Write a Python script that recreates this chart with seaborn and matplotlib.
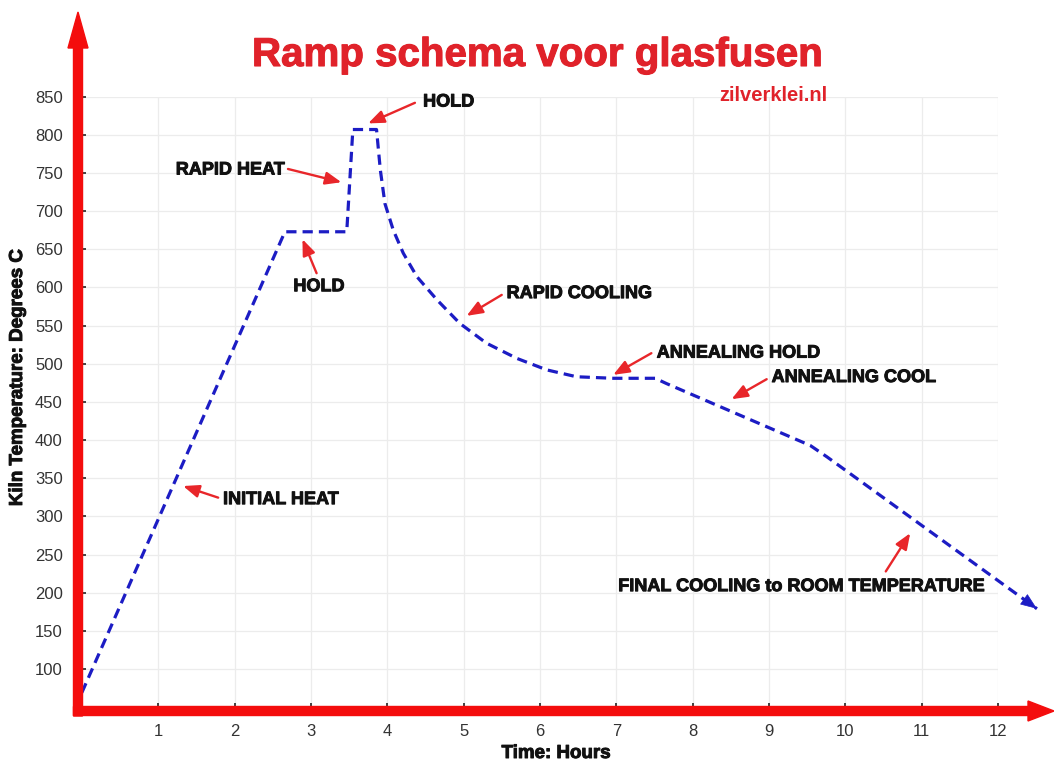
import matplotlib
matplotlib.use("Agg")
import matplotlib.pyplot as plt
import matplotlib.patches as mpatches
import matplotlib.patheffects as pe
from matplotlib.transforms import IdentityTransform
import seaborn as sns
import pandas as pd

# ---------------- data ----------------
time_h = [0.0, 2.66, 3.47, 3.55, 3.86, 3.91, 3.97, 4.08, 4.21, 4.39, 4.65,
          4.95, 5.30, 5.70, 6.09, 6.48, 6.96, 7.51, 7.66, 9.54, 9.76, 12.51]
temp_c = [69, 673, 673, 807, 807, 754, 710, 675, 645, 614, 584,
          553, 527, 507, 492, 483, 481, 481, 474, 393, 378, 179]

x_ticks = [1, 2, 3, 4, 5, 6, 7, 8, 9, 10, 11, 12]
y_ticks = [100, 150, 200, 250, 300, 350, 400, 450, 500, 550, 600, 650, 700, 750, 800, 850]

labels = ["INITIAL HEAT", "HOLD", "RAPID HEAT", "HOLD", "RAPID COOLING",
          "ANNEALING HOLD", "ANNEALING COOL", "FINAL COOLING to ROOM TEMPERATURE"]
label_x = [1.85, 3.105, 2.66, 4.47, 5.564, 7.53, 9.035, 7.026]
label_y = [322, 601, 754, 843, 592, 514, 482, 208]
label_ha = ["left", "center", "right", "left", "left", "left", "left", "left"]
tail_x = [1.786, 3.075, 2.70, 4.363, 5.50, 7.46, 8.97, 10.53]
tail_y = [324.6, 618.7, 755.3, 842, 590.3, 513.9, 479.8, 227.9]
tip_x = [1.327, 2.89, 3.40, 3.75, 5.04, 6.96, 8.51, 10.85]
tip_y = [339.8, 663.2, 737.9, 815, 562.8, 485.5, 453.6, 278]

title = "Ramp schema voor glasfusen"
subtitle = "zilverklei.nl"
xlabel = "Time: Hours"
ylabel = "Kiln Temperature: Degrees C"

# ---------------- style ----------------
RED = "#f40d0d"
TRED = "#e0222a"
AR_RED = "#e8262a"
BLUE = "#1c1cc4"

sns.set_theme(style="white")
plt.rcParams["font.family"] = ["Liberation Sans", "DejaVu Sans"]

W, H = 1054, 761
fig = plt.figure(figsize=(W / 100, H / 100), dpi=100)
fig.patch.set_facecolor("white")

ax_l, ax_r, ax_t, ax_b = 78, 998, 96.7, 711
ax = fig.add_axes([ax_l / W, (H - ax_b) / H, (ax_r - ax_l) / W, (ax_b - ax_t) / H])
ax.set_facecolor("white")

df = pd.DataFrame({"time": time_h, "temp": temp_c})
sns.lineplot(data=df, x="time", y="temp", ax=ax, sort=False, estimator=None,
             color=BLUE, linewidth=2.3, clip_on=False, zorder=5)
line = ax.lines[-1]
line.set_dashes((3.2, 1.9))
line.set_clip_on(False)

# arrow head at the end of the line
ax.annotate("", xy=(time_h[-1], temp_c[-1]),
            xytext=(time_h[-1] - (time_h[-1] - time_h[-2]) * 0.02,
                    temp_c[-1] - (temp_c[-1] - temp_c[-2]) * 0.02),
            arrowprops=dict(arrowstyle="-|>,head_length=0.9,head_width=0.35",
                            color=BLUE, lw=0.5, mutation_scale=12),
            annotation_clip=False, zorder=6)

ax.set_xlim(-0.05, 12)
ax.set_ylim(45, 850)
ax.set_xticks(list(range(0, 13)))
ax.set_xticklabels([""] + [str(v) for v in x_ticks])
ax.set_yticks([50] + y_ticks)
ax.set_yticklabels([""] + [str(v) for v in y_ticks])

ax.grid(True, color="#ececec", linewidth=0.9)
for s in ax.spines.values():
    s.set_visible(False)
ax.tick_params(axis="both", direction="in", length=6, width=1.3, color="#333333",
               labelsize=12, labelcolor="#333333")
ax.tick_params(axis="x", pad=9, bottom=True)
ax.tick_params(axis="y", pad=11, left=True)

heavy = [pe.withStroke(linewidth=0.7, foreground="#111111")]
ax.set_xlabel(xlabel, fontsize=13.5, fontweight="bold", color="#111111",
              path_effects=heavy)
ax.set_ylabel(ylabel, fontsize=13.5, fontweight="bold", color="#111111",
              path_effects=heavy)
ax.xaxis.set_label_coords((556 - ax_l) / (ax_r - ax_l), -(745 - ax_b) / (ax_b - ax_t))
ax.yaxis.set_label_coords(-(ax_l - 26) / (ax_r - ax_l), (ax_b - 378) / (ax_b - ax_t))

# annotations
for lab, lx, ly, ha in zip(labels, label_x, label_y, label_ha):
    ax.text(lx, ly, lab, ha=ha, va="center", fontsize=13, fontweight="bold",
            color="#111111", zorder=7, path_effects=heavy)
for tx, ty, px, py in zip(tail_x, tail_y, tip_x, tip_y):
    ax.annotate("", xy=(px, py), xytext=(tx, ty),
                arrowprops=dict(arrowstyle="-|>,head_length=0.8,head_width=0.32",
                                color=AR_RED, lw=1.7, mutation_scale=12,
                                shrinkA=0, shrinkB=0),
                zorder=7)

# red axis arrows (figure pixel coordinates)
ident = IdentityTransform()
yarrow = mpatches.FancyArrow(ax_l, H - 716, 0, (H - 12) - (H - 716), width=9,
                             head_width=20, head_length=36, length_includes_head=True,
                             color=RED, transform=ident, zorder=10)
xarrow = mpatches.FancyArrow(ax_l - 4.5, H - ax_b, 1054 - (ax_l - 4.5), 0, width=9,
                             head_width=20, head_length=26, length_includes_head=True,
                             color=RED, transform=ident, zorder=10)
fig.add_artist(yarrow)
fig.add_artist(xarrow)

fig.text(537 / W, (H - 66) / H, title, ha="center", va="baseline", fontsize=29,
         fontweight="bold", color=TRED,
         path_effects=[pe.withStroke(linewidth=0.8, foreground=TRED)])
fig.text(827 / W, (H - 101) / H, subtitle, ha="right", va="baseline", fontsize=14.5,
         fontweight="bold", color=TRED)

fig.savefig("out.png", dpi=100, facecolor="white")
